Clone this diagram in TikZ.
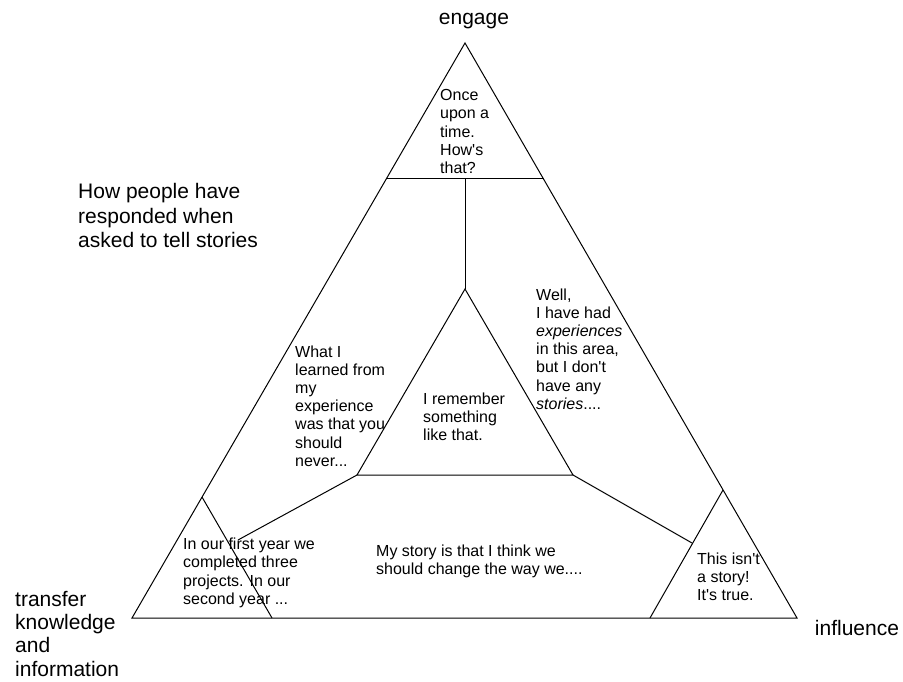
\documentclass[tikz,border=0pt]{standalone}
\usepackage{fontspec}
\setmainfont{Liberation Sans}
\newcommand{\txtlines}[2]{\vtop{\baselineskip=#1\lineskiplimit=-20pt\halign{##\hfil\cr#2\crcr}}}
\newcommand{\apos}{\textquotesingle}
\begin{document}
\begin{tikzpicture}[x=1pt,y=-1pt,
  shape line/.style={line width=1pt,line join=miter},
  small text/.style={anchor=base west,inner sep=0pt,font=\fontsize{16}{18.3}\selectfont},
  big text/.style={anchor=base west,inner sep=0pt,font=\fontsize{21}{24.5}\selectfont}]
\useasboundingbox (0,0) rectangle (903,682);
% corner points
\coordinate (A) at (465,43);
\coordinate (L) at (132,618);
\coordinate (R) at (797,618);
\coordinate (TL) at (386.2,179);
\coordinate (TR) at (543.6,179);
\coordinate (TM) at (465,179);
\coordinate (CA) at (465,289);
\coordinate (CL) at (357,475);
\coordinate (CR) at (573,475);
\coordinate (BLA) at (202,497);
\coordinate (BLR) at (272,618);
\coordinate (BRA) at (723,490);
\coordinate (BRL) at (650,618);
\coordinate (BLE) at (238,540);
\coordinate (BRE) at (692,543);
% shapes
\draw[shape line] (A) -- (L) -- (R) -- cycle;
\draw[shape line] (TL) -- (TR);
\draw[shape line] (TM) -- (CA);
\draw[shape line] (CA) -- (CL) -- (CR) -- cycle;
\draw[shape line] (BLA) -- (BLR);
\draw[shape line] (BRA) -- (BRL);
\draw[shape line] (CL) -- (BLE);
\draw[shape line] (CR) -- (BRE);
% labels
\node[big text,anchor=base] (engage) at (474,25) {engage};
\node[big text,anchor=base] (influence) at (857,635) {influence};
\node[big text] (title) at (78,199) {\txtlines{24.5pt}{How people have\cr responded when\cr asked to tell stories}};
\node[big text] (transfer) at (15,606) {\txtlines{23.4pt}{transfer\cr knowledge\cr and\cr information}};
% texts in regions
\node[small text] (once) at (440,100.5) {\txtlines{18.3pt}{Once\cr upon a\cr time.\cr How\apos s\cr that?}};
\node[small text] (what) at (295,357.5) {\txtlines{18.1pt}{What I\cr learned from\cr my\cr experience\cr was that you\cr should\cr never...}};
\node[small text] (well) at (536,300.5) {\txtlines{18.1pt}{Well,\cr I have had\cr \textit{experiences}\cr in this area,\cr but I don\apos t\cr have any\cr \textit{stories}....}};
\node[small text] (remember) at (423,404) {\txtlines{18pt}{I remember\cr something\cr like that.}};
\node[small text] (first) at (183,549) {\txtlines{18.5pt}{In our first year we\cr completed three\cr projects. In our\cr second year ...}};
\node[small text] (mystory) at (376,556) {\txtlines{18.5pt}{My story is that I think we\cr should change the way we....}};
\node[small text] (isnt) at (697,564) {\txtlines{18.3pt}{This isn\apos t\cr a story!\cr It\apos s true.}};
\end{tikzpicture}
\end{document}
